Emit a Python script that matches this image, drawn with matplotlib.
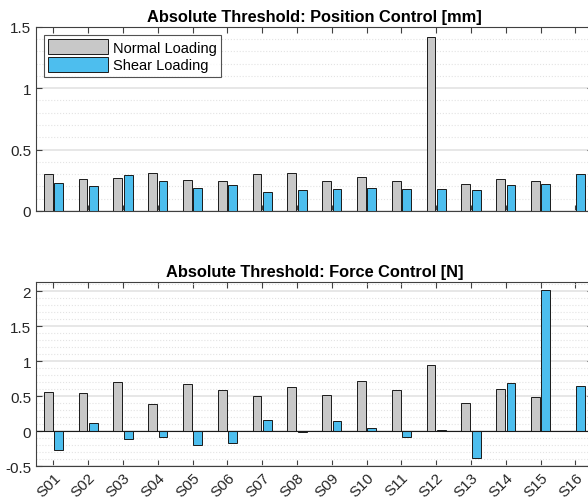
import matplotlib
matplotlib.use("Agg")
import matplotlib.pyplot as plt
import numpy as np
from matplotlib.ticker import MultipleLocator

plt.rcParams['font.family'] = ['Liberation Sans', 'DejaVu Sans']

subjects = ['S01', 'S02', 'S03', 'S04', 'S05', 'S06', 'S07', 'S08',
            'S09', 'S10', 'S11', 'S12', 'S13', 'S14', 'S15', 'S16']
pos_normal = [0.30, 0.26, 0.27, 0.31, 0.25, 0.24, 0.30, 0.31,
              0.24, 0.28, 0.24, 1.42, 0.22, 0.26, 0.24, 0.0]
pos_shear = [0.23, 0.20, 0.29, 0.24, 0.19, 0.21, 0.15, 0.17,
             0.18, 0.19, 0.18, 0.18, 0.17, 0.21, 0.22, 0.30]
force_normal = [0.56, 0.54, 0.70, 0.38, 0.67, 0.59, 0.50, 0.63,
                0.51, 0.71, 0.58, 0.95, 0.40, 0.60, 0.49, 0.0]
force_shear = [-0.27, 0.11, -0.12, -0.08, -0.20, -0.17, 0.16, -0.01,
               0.145, 0.04, -0.08, 0.02, -0.39, 0.68, 2.02, 0.645]

titles = ['Absolute Threshold: Position Control [mm]',
          'Absolute Threshold: Force Control [N]']
legend_labels = ['Normal Loading', 'Shear Loading']

gray_c = '#C8C8C8'
blue_c = '#4DBEEE'
axc = '#404040'
labc = '#262626'

fig = plt.figure(figsize=(5.88, 5.02), dpi=100)
ax1 = fig.add_axes([0.0612, 0.578, 0.947, 0.3665])
ax2 = fig.add_axes([0.0612, 0.0697, 0.947, 0.3665])

x = np.arange(1, len(subjects) + 1)
w = 0.25
off = 0.15

def style(ax, ylim, major, showlabels):
    ax.set_xlim(0.5, 16.5)
    ax.set_ylim(*ylim)
    ax.yaxis.set_major_locator(MultipleLocator(major))
    ax.yaxis.set_minor_locator(MultipleLocator(0.1))
    ax.set_xticks(x)
    if showlabels:
        ax.set_xticklabels(subjects, rotation=45, ha='right', rotation_mode='anchor')
    else:
        ax.set_xticklabels([])
    ax.tick_params(axis='both', which='major', direction='in', top=True, right=True,
                   labelsize=11, color=axc, labelcolor=labc, length=4, width=0.8)
    ax.tick_params(axis='x', which='major', pad=3)
    ax.tick_params(axis='y', which='minor', left=False, right=False)
    ax.tick_params(axis='x', which='minor', bottom=False, top=False)
    ax.grid(axis='y', which='major', color='#E3E3E3', linewidth=1.2)
    ax.grid(axis='y', which='minor', color='#E3E3E3', linestyle=':', linewidth=0.8)
    ax.set_axisbelow(True)
    for s in ax.spines.values():
        s.set_color(axc)
        s.set_linewidth(0.8)

ax1.bar(x - off, pos_normal, w, color=gray_c, edgecolor='#1a1a1a', linewidth=0.7,
        label=legend_labels[0])
ax1.bar(x + off, pos_shear, w, color=blue_c, edgecolor='#1a1a1a', linewidth=0.7,
        label=legend_labels[1])
style(ax1, (0, 1.5), 0.5, False)
ax1.set_yticks([0, 0.5, 1, 1.5])
ax1.set_yticklabels(['0', '0.5', '1', '1.5'])
ax1.set_title(titles[0], fontsize=11.8, fontweight='bold', pad=4)
leg = ax1.legend(loc='upper left', fontsize=10.5, frameon=True, fancybox=False,
                 handlelength=4.1, handleheight=1.2, borderpad=0.3, labelspacing=0.15,
                 handletextpad=0.3, borderaxespad=0.55)
leg.get_frame().set_edgecolor('#262626')
leg.get_frame().set_linewidth(0.8)

ax2.bar(x - off, force_normal, w, color=gray_c, edgecolor='#1a1a1a', linewidth=0.7)
ax2.bar(x + off, force_shear, w, color=blue_c, edgecolor='#1a1a1a', linewidth=0.7)
ax2.axhline(0, color='#1a1a1a', linewidth=0.8, zorder=1.5)
style(ax2, (-0.5, 2.13), 0.5, True)
ax2.set_yticks([-0.5, 0, 0.5, 1, 1.5, 2])
ax2.set_yticklabels(['-0.5', '0', '0.5', '1', '1.5', '2'])
ax2.set_title(titles[1], fontsize=11.8, fontweight='bold', pad=4)

fig.savefig('out.png', dpi=100)
